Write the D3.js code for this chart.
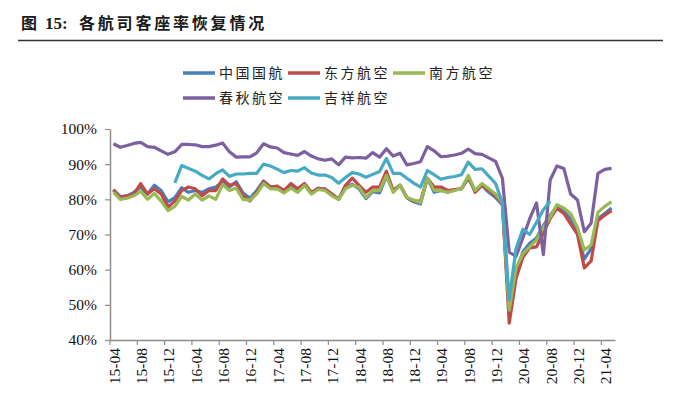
<!DOCTYPE html>
<html>
<head>
<meta charset="utf-8">
<script src="https://cdn.jsdelivr.net/npm/d3@7"></script>
<style>
  body { margin: 0; background: #fff; }
  svg { display: block; }
</style>
</head>
<body>
<div id="chart"></div>
<script>
// monthly load factor (%), 2015-04 .. 2021-05
const seriesNames = ["中国国航", "东方航空", "南方航空", "春秋航空", "吉祥航空"];
const seriesColors = ["#4a7ebb", "#be4b48", "#98b954", "#7d60a0", "#46aac5"];

const airChina = [82.6, 80.8, 81.0, 82.0, 83.5, 81.5, 84.0, 82.5, 79.3, 80.5, 83.3, 82.0,
  82.5, 82.0, 83.0, 83.5, 85.0, 83.5, 85.0, 81.8, 80.3, 82.5, 85.2, 83.5,
  83.5, 82.5, 83.5, 82.5, 84.0, 81.8, 83.2, 82.8, 81.5, 80.0, 83.5, 84.3,
  83.0, 80.2, 82.2, 81.8, 86.5, 82.5, 84.0, 80.5, 79.3, 78.7, 86.0, 82.0,
  82.5, 82.0, 82.7, 83.0, 86.0, 82.5, 84.0, 82.0, 80.5, 78.5, 47.5, 59.5,
  65.0, 67.5, 69.0, 72.5, 75.5, 78.0, 76.5, 74.5, 70.5, 63.0, 66.0, 74.5,
  76.0, 77.5];
const chinaEastern = [82.8, 80.5, 81.0, 81.5, 84.5, 81.5, 83.0, 81.5, 77.8, 79.5, 82.5, 83.5,
  83.0, 81.0, 82.5, 82.5, 85.8, 84.0, 84.5, 81.0, 79.5, 82.0, 85.0, 83.5,
  83.8, 82.5, 84.5, 83.0, 84.5, 82.0, 83.0, 83.0, 81.5, 80.0, 84.0, 86.0,
  84.0, 82.0, 83.5, 83.5, 88.0, 82.5, 84.0, 80.5, 79.5, 79.5, 86.0, 83.5,
  83.5, 82.5, 82.8, 83.0, 86.5, 82.0, 84.0, 82.5, 81.0, 78.5, 44.8, 57.5,
  63.5, 66.2, 66.5, 70.5, 74.5, 77.5, 76.0, 73.0, 70.0, 60.5, 62.5, 74.0,
  75.5, 76.8];
const chinaSouthern = [82.0, 80.0, 80.3, 81.0, 82.3, 80.0, 81.7, 79.5, 76.8, 78.0, 80.8, 79.8,
  81.5, 79.8, 81.0, 80.0, 84.2, 82.5, 83.2, 80.0, 79.8, 81.5, 84.5, 83.0,
  83.0, 81.8, 83.2, 82.0, 84.0, 81.5, 82.8, 82.5, 81.0, 80.0, 83.0, 84.0,
  83.5, 80.5, 82.5, 82.5, 86.8, 82.0, 84.0, 80.5, 79.8, 79.0, 86.0, 82.5,
  82.5, 82.0, 82.5, 83.0, 86.8, 82.5, 84.5, 83.0, 81.5, 79.0, 48.5, 60.5,
  64.5, 66.5, 68.5, 72.0, 75.0, 78.5, 77.5, 76.0, 72.0, 65.6, 67.0, 76.3,
  78.0, 79.3];
const spring = [95.8, 94.8, 95.3, 95.9, 96.2, 95.0, 94.8, 93.8, 92.8, 93.5, 95.6, 95.6,
  95.5, 95.0, 95.0, 95.4, 96.0, 93.5, 92.0, 92.1, 92.1, 93.2, 95.8, 94.9,
  94.6, 93.3, 92.9, 92.5, 93.6, 92.3, 91.5, 91.1, 91.5, 89.8, 92.0, 91.8,
  91.9, 91.7, 93.3, 92.0, 94.4, 92.3, 93.1, 89.8, 90.2, 90.7, 95.0, 93.8,
  92.1, 92.3, 92.6, 93.1, 94.3, 93.0, 92.8, 91.8, 90.8, 86.0, 65.0, 63.8,
  69.0, 74.5, 79.0, 64.3, 85.5, 89.5, 88.8, 81.5, 79.8, 70.8, 73.2, 87.4,
  88.5, 88.8];
const juneyao = [null, null, null, null, null, null, null, null, null, 84.7, 89.6, 88.8,
  88.0, 86.8, 85.8, 87.3, 88.4, 86.5, 87.2, 87.2, 87.4, 87.4, 90.0, 89.5,
  88.6, 87.6, 88.2, 88.0, 89.0, 87.5, 86.9, 86.9, 86.2, 84.6, 86.2, 87.6,
  87.2, 86.3, 87.1, 87.9, 91.6, 87.4, 87.4, 86.0, 84.6, 83.5, 88.2, 87.0,
  85.7, 86.2, 86.5, 87.0, 90.6, 88.5, 88.7, 86.6, 84.5, 79.0, 51.5, 66.0,
  71.5, 70.0, 73.5, 77.0, 79.5, null, null, null, null, null, null, null,
  null, null];

const yTicks = [40, 50, 60, 70, 80, 90, 100];
const xTickLabels = ["15-04", "15-08", "15-12", "16-04", "16-08", "16-12", "17-04", "17-08",
  "17-12", "18-04", "18-08", "18-12", "19-04", "19-08", "19-12", "20-04", "20-08", "20-12", "21-04"];

// month categories 15-04 .. 21-05
const months = [];
for (let y = 15, m = 4; months.length < airChina.length; m++) {
  if (m > 12) { m = 1; y++; }
  months.push(y + "-" + String(m).padStart(2, "0"));
}

const allSeries = [airChina, chinaEastern, chinaSouthern, spring, juneyao];

const W = 676, H = 399;
const svg = d3.select("#chart").append("svg")
  .attr("width", W)
  .attr("height", H);

// title
svg.append("text")
  .attr("x", 21).attr("y", 29)
  .attr("font-family", "'Noto Sans CJK SC'")
  .attr("font-weight", "bold")
  .attr("font-size", 16)
  .attr("fill", "#1a1a1a")
  .text("图");
svg.append("text")
  .attr("x", 45).attr("y", 29)
  .attr("font-family", "'Liberation Serif'")
  .attr("font-weight", "bold")
  .attr("font-size", 17)
  .attr("fill", "#1a1a1a")
  .text("15:");
svg.append("text")
  .attr("x", 79).attr("y", 29)
  .attr("font-family", "'Noto Sans CJK SC'")
  .attr("font-weight", "bold")
  .attr("font-size", 16)
  .attr("letter-spacing", 2.8)
  .attr("fill", "#1a1a1a")
  .text("各航司客座率恢复情况");
svg.append("line")
  .attr("x1", 18).attr("x2", 663)
  .attr("y1", 40.5).attr("y2", 40.5)
  .attr("stroke", "#333")
  .attr("stroke-width", 1.5);

// scales
const x = d3.scaleBand().domain(months).range([110, 615]).padding(0);
const y = d3.scaleLinear().domain([40, 100]).range([340, 129]);
const bw = x.bandwidth();

const axisColor = "#8c8c8c";

// y axis
const yAxis = svg.append("g")
  .attr("transform", "translate(110,0)")
  .call(d3.axisLeft(y).tickValues(yTicks).tickSize(5).tickSizeOuter(0).tickPadding(8)
    .tickFormat(d => d + "%"));
yAxis.select(".domain").attr("stroke", axisColor).attr("stroke-width", 1.5);
yAxis.selectAll(".tick line").attr("stroke", axisColor).attr("stroke-width", 1.2);
yAxis.selectAll("text")
  .attr("font-family", "'Liberation Serif'")
  .attr("font-size", 15.5)
  .attr("fill", "#111");

// x axis
const xAxis = svg.append("g")
  .attr("transform", "translate(0,340)")
  .call(d3.axisBottom(x).tickValues(xTickLabels).tickSize(5).tickSizeOuter(0));
xAxis.select(".domain").attr("stroke", axisColor).attr("stroke-width", 1.5);
xAxis.selectAll(".tick line")
  .attr("x1", -bw / 2).attr("x2", -bw / 2)
  .attr("stroke", axisColor).attr("stroke-width", 1.2);
xAxis.selectAll("text")
  .attr("transform", "rotate(-90)")
  .attr("text-anchor", "end")
  .attr("x", -8)
  .attr("y", 1)
  .attr("dy", "0.35em")
  .attr("font-family", "'Liberation Serif'")
  .attr("font-size", 15.5)
  .attr("fill", "#111");

// lines
const line = d3.line()
  .defined(d => d.v != null)
  .x(d => x(d.m) + bw / 2)
  .y(d => y(d.v));

allSeries.forEach((vals, k) => {
  svg.append("path")
    .datum(vals.map((v, i) => ({ m: months[i], v: v })))
    .attr("fill", "none")
    .attr("stroke", seriesColors[k])
    .attr("stroke-width", 3.2)
    .attr("stroke-linejoin", "round")
    .attr("d", line);
});

// legend
const legendPos = [[183, 73], [288, 73], [393, 73], [183, 98], [288, 98]];
seriesNames.forEach((name, k) => {
  const [lx, ly] = legendPos[k];
  const g = svg.append("g").attr("transform", `translate(${lx},${ly})`);
  g.append("line")
    .attr("x1", 0).attr("x2", 32)
    .attr("stroke", seriesColors[k])
    .attr("stroke-width", 3.5);
  g.append("text")
    .attr("x", 36).attr("y", 5)
    .attr("font-family", "'Noto Sans CJK SC'")
    .attr("font-size", 14)
    .attr("letter-spacing", 2.5)
    .attr("fill", "#222")
    .text(name);
});
</script>
</body>
</html>
